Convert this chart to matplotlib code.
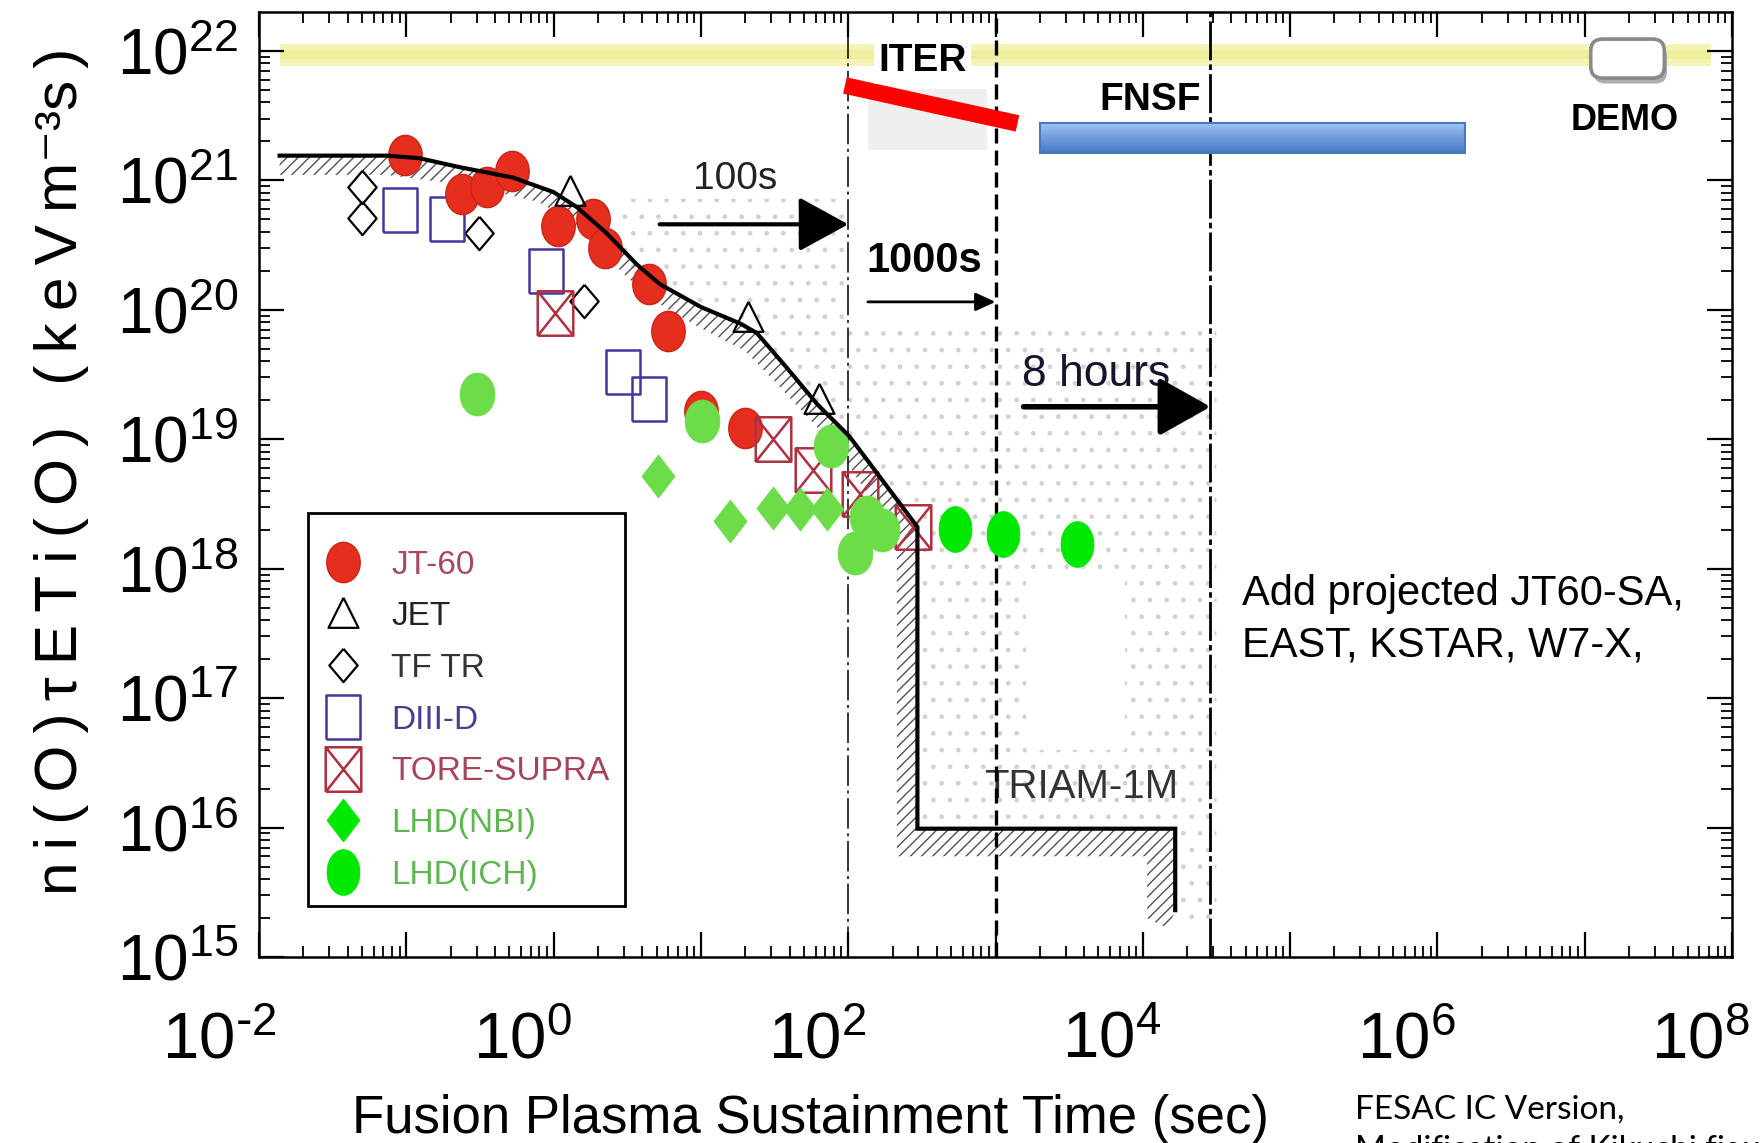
import numpy as np
import matplotlib
matplotlib.use("Agg")
import matplotlib.pyplot as plt
from matplotlib import font_manager
from matplotlib.path import Path
from matplotlib.patches import Polygon, Rectangle, FancyBboxPatch
from matplotlib.lines import Line2D
from matplotlib.ticker import LogLocator, FuncFormatter, NullFormatter
from matplotlib.transforms import ScaledTranslation
from matplotlib.colors import LinearSegmentedColormap
import matplotlib.patheffects as pe

installed = {f.name for f in font_manager.fontManager.ttflist}
NARROW = 'Liberation Sans Narrow' if 'Liberation Sans Narrow' in installed else 'Liberation Sans'
plt.rcParams['font.family'] = ['Liberation Sans', 'DejaVu Sans']
plt.rcParams['hatch.linewidth'] = 1.0

# sustainment time (s) and ni(0) tauE Ti(0) (keV m^-3 s)
jt60_t = [0.098, 0.24, 0.355, 0.525, 1.07, 1.86, 2.24, 4.47, 6.0, 10.0, 20.0]
jt60_v = [1.58e21, 7.9e20, 8.9e20, 1.17e21, 4.4e20, 5.0e20, 3.0e20, 1.58e20, 6.8e19, 1.66e19, 1.23e19]
jet_t = [1.29, 20.9, 63.0]
jet_v = [8.1e20, 8.7e19, 2.0e19]
tftr_t = [0.050, 0.050, 0.31, 1.62]
tftr_v = [8.9e20, 5.1e20, 3.9e20, 1.17e20]
d3d_t = [0.091, 0.19, 0.89, 2.95, 4.47]
d3d_v = [5.9e20, 5.0e20, 2.0e20, 3.3e19, 2.04e19]
ts_t = [1.02, 31.0, 57.5, 120.0, 275.0]
ts_v = [9.5e19, 1.0e19, 5.75e18, 3.8e18, 2.1e18]
nbi_t = [5.1, 15.8, 31.0, 46.8, 72.0]
nbi_v = [5.2e18, 2.34e18, 2.95e18, 2.9e18, 2.9e18]
ich_t = [0.30, 10.2, 76.0, 112.0, 135.0, 170.0]
ich_v = [2.24e19, 1.38e19, 8.9e18, 1.32e18, 2.5e18, 2.0e18]
ich_new_t = [530.0, 1120.0, 3550.0]
ich_new_v = [2.04e18, 1.86e18, 1.55e18]

# envelope of achieved values
env_t = [0.0138, 0.074, 0.123, 0.232, 0.53, 1.0, 1.44, 2.29, 3.67, 5.25, 10.0, 18.6,
         24.0, 38.0, 61.7, 102.0, 295.0, 295.0, 16600.0, 16600.0]
env_v = [1.55e21, 1.55e21, 1.48e21, 1.26e21, 1.05e21, 8.1e20, 6.2e20, 3.9e20, 2.24e20,
         1.58e20, 1.05e20, 7.8e19, 6.6e19, 3.6e19, 1.86e19, 1.05e19, 2.1e18, 9.8e15,
         9.8e15, 2.3e15]
# lower edge of the hatched band (traced back from the end)
band_t = [14800.0, 10700.0, 10700.0, 214.0, 214.0, 89.0, 52.5, 31.6, 20.0, 10.0, 5.6,
          3.16, 1.9, 1.26, 0.79, 0.45, 0.2, 0.074, 0.0138]
band_v = [1.66e15, 2.0e15, 6.0e15, 6.0e15, 1.66e18, 7.9e18, 1.5e19, 2.8e19, 4.8e19,
          7.2e19, 1.05e20, 1.78e20, 3.16e20, 5.0e20, 6.8e20, 7.9e20, 9.5e20, 1.1e21, 1.1e21]
# dotted background region
dots_t = [2.8, 100.0, 100.0, 31600.0, 31600.0, 17800.0, 17800.0, 295.0, 295.0, 102.0,
          38.0, 24.0, 10.0, 5.25, 2.8]
dots_v = [7.2e20, 7.2e20, 7.6e19, 7.6e19, 1.6e15, 1.6e15, 9.8e15, 9.8e15, 2.1e18, 1.05e19,
          3.6e19, 6.6e19, 1.05e20, 1.58e20, 2.24e20]
blank_t = [1620.0, 7600.0]
blank_v = [4.0e16, 9.3e17]

iter_t = [95.0, 1410.0]
iter_v = [5.4e21, 2.75e21]
iter_bg_t = [136.0, 870.0]
iter_bg_v = [1.7e21, 5.1e21]
fnsf_t = [2000.0, 1.55e6]
fnsf_v = [1.62e21, 2.75e21]
demo_t = [1.1e7, 3.47e7]
demo_v = [6.17e21, 1.23e22]
goal_t = [0.0138, 7.2e7]
goal_v = [7.7e21, 1.13e22]

legend_labels = ['JT-60', 'JET', 'TF TR', 'DIII-D', 'TORE-SUPRA', 'LHD(NBI)', 'LHD(ICH)']
legend_colors = ['#a84a5c', '#222222', '#333333', '#4a3c92', '#a8445a', '#5cb84e', '#5cb84e']


def ellipse(w):
    t = np.linspace(0, 2 * np.pi, 64)
    return Path(np.column_stack([w * np.cos(t), np.sin(t)]))


def box(w, cross=False):
    v = [(-w, -1), (w, -1), (w, 1), (-w, 1), (-w, -1)]
    c = [Path.MOVETO] + [Path.LINETO] * 4
    if cross:
        v += [(-w, -1), (w, 1), (-w, 1), (w, -1)]
        c += [Path.MOVETO, Path.LINETO, Path.MOVETO, Path.LINETO]
    return Path(v, c)


def diamond(w):
    return Path([(0, 1), (w, 0), (0, -1), (-w, 0), (0, 1)])


def triangle(w):
    return Path([(0, 1), (w, -0.8), (-w, -0.8), (0, 1)])


RED = '#e62e1e'
PURPLE = '#4634a0'
TSRED = '#b03040'
LGREEN = '#6cdc48'
BGREEN = '#00e800'

styles = {
    'jt60': dict(marker=ellipse(0.83), ms=29, mfc=RED, mec='#cc2418', mew=1),
    'jet': dict(marker=triangle(0.9), ms=24, mfc='none', mec='black', mew=1.6),
    'tftr': dict(marker=diamond(0.85), ms=24, mfc='none', mec='black', mew=1.6),
    'd3d': dict(marker=box(0.77), ms=32, mfc='none', mec=PURPLE, mew=1.8),
    'ts': dict(marker=box(0.8, True), ms=32, mfc='none', mec=TSRED, mew=1.8),
    'nbi': dict(marker=diamond(0.77), ms=31, mfc=LGREEN, mec=LGREEN, mew=0.5),
    'ich': dict(marker=ellipse(0.81), ms=31, mfc=LGREEN, mec=LGREEN, mew=0.5),
    'ich_new': dict(marker=ellipse(0.72), ms=33, mfc=BGREEN, mec=BGREEN, mew=0.5),
}

fig = plt.figure(figsize=(17.61, 11.43), dpi=100)
ax = fig.add_axes([259 / 1761, 186 / 1143, 1473 / 1761, 945 / 1143])
ax.set_xscale('log')
ax.set_yscale('log')

# background decorations
ax.fill_between(goal_t, goal_v[0], goal_v[1], color='#f4f4b6', lw=0, zorder=1)
ax.fill_between(goal_t, goal_v[0] * 1.12, goal_v[1] / 1.12, color='#eeee9c', lw=0, zorder=1)
ax.add_patch(Polygon(list(zip(dots_t, dots_v)), closed=True, facecolor='none',
                     edgecolor='#d2d2d2', lw=0, hatch='.', zorder=1))
ax.add_patch(Rectangle((blank_t[0], blank_v[0]), blank_t[1] - blank_t[0], blank_v[1] - blank_v[0],
                       facecolor='white', lw=0, zorder=1.5))
band = list(zip(env_t, env_v)) + list(zip(band_t, band_v))
ax.add_patch(Polygon(band, closed=True, facecolor='none', edgecolor='#505050', lw=0,
                     hatch='///', zorder=2))

ax.axvline(100, color='black', lw=1.1, ls=(0, (20, 3, 2, 3)), zorder=2.5)
ax.axvline(1000, color='black', lw=2.4, ls=(0, (4.5, 2.1)), zorder=2.5)
ax.axvline(28800, color='black', lw=2.0, ls=(0, (14, 1.5, 2, 1.5)), zorder=2.5)

# data
ax.plot(tftr_t, tftr_v, ls='none', zorder=3, **styles['tftr'])
ax.plot(d3d_t, d3d_v, ls='none', zorder=3, **styles['d3d'])
ax.plot(jt60_t, jt60_v, ls='none', zorder=3, **styles['jt60'])
ax.plot(jet_t, jet_v, ls='none', zorder=3, **styles['jet'])
ax.plot(ts_t, ts_v, ls='none', zorder=3, **styles['ts'])
ax.plot(nbi_t, nbi_v, ls='none', zorder=3, **styles['nbi'])
ax.plot(ich_t, ich_v, ls='none', zorder=3, **styles['ich'])
ax.plot(ich_new_t, ich_new_v, ls='none', zorder=3.5, **styles['ich_new'])
ax.plot(env_t, env_v, color='black', lw=3, solid_joinstyle='miter', zorder=4)

# ITER / FNSF / DEMO
ax.add_patch(Rectangle((iter_bg_t[0], iter_bg_v[0]), iter_bg_t[1] - iter_bg_t[0],
                       iter_bg_v[1] - iter_bg_v[0], facecolor='#efefef', lw=0, zorder=2.6))
ax.plot(iter_t, iter_v, color='#ff0000', lw=12, solid_capstyle='butt', zorder=5)
cmap = LinearSegmentedColormap.from_list('fnsf', ['#a2c6f6', '#4a7cc6'])
ax.imshow(np.linspace(0, 1, 64).reshape(-1, 1), cmap=cmap, aspect='auto', origin='upper',
          extent=(fnsf_t[0], fnsf_t[1], fnsf_v[0], fnsf_v[1]), interpolation='bilinear', zorder=5)
ax.add_patch(Rectangle((fnsf_t[0], fnsf_v[0]), fnsf_t[1] - fnsf_t[0], fnsf_v[1] - fnsf_v[0],
                       fill=False, edgecolor='#4a78c0', lw=1.5, zorder=5.1))

ax.set_xlim(1e-2, 1e8)
ax.set_ylim(1e15, 10 ** 22.3)

to_axes = ax.transData + ax.transAxes.inverted()
(dx0, dy0), (dx1, dy1) = to_axes.transform([(demo_t[0], demo_v[0]), (demo_t[1], demo_v[1])])
ax.add_patch(FancyBboxPatch((dx0, dy0), dx1 - dx0, dy1 - dy0, transform=ax.transAxes,
                            boxstyle='round,pad=0,rounding_size=0.008', mutation_aspect=1473 / 945,
                            facecolor='white', edgecolor='#8a8a8a', lw=2.5, zorder=5,
                            path_effects=[pe.withSimplePatchShadow(offset=(2, -4), shadow_rgbFace='#999999', alpha=0.8),
                                          pe.Normal()]))

ax.text(320, 8.3e21, 'ITER', fontsize=28, fontweight='bold', ha='center', va='center', zorder=6,
        bbox=dict(facecolor='white', edgecolor='none', pad=3))
ax.text(11200, 4.2e21, 'FNSF', fontsize=28, fontweight='bold', ha='center', va='center', zorder=6)
ax.text(1.86e7, 2.9e21, 'DEMO', fontsize=26, fontweight='bold', ha='center', va='center', zorder=6)

# arrows and labels
ax.annotate('', xy=(100, 4.57e20), xytext=(5.25, 4.57e20), zorder=6,
            arrowprops=dict(arrowstyle='-|>,head_length=3.1,head_width=1.7', mutation_scale=10,
                            lw=3, color='black', shrinkA=0, shrinkB=0))
ax.text(17, 1.02e21, '100s', fontsize=28, family=NARROW, color='#222222', ha='center', va='center')
ax.annotate('', xy=(1000, 1.15e20), xytext=(136, 1.15e20), zorder=6,
            arrowprops=dict(arrowstyle='-|>,head_length=1.2,head_width=0.55', mutation_scale=10,
                            lw=2, color='black', shrinkA=0, shrinkB=0))
ax.text(330, 2.4e20, '1000s', fontsize=30, fontweight='bold', ha='center', va='center', zorder=6)
ax.annotate('', xy=(28800, 1.78e19), xytext=(1550, 1.78e19), zorder=6,
            arrowprops=dict(arrowstyle='-|>,head_length=3.2,head_width=1.8', mutation_scale=10,
                            lw=4, color='black', shrinkA=0, shrinkB=0))
ax.text(4800, 3.16e19, '8 hours', fontsize=32, family=NARROW, color='#15152e', ha='center', va='center')
ax.text(3800, 2.04e16, 'TRIAM-1M', fontsize=29, family=NARROW, color='#333333', ha='center',
        va='center', zorder=2)
ax.text(47200, 5.25e17, 'Add projected JT60-SA,', fontsize=30, ha='left', va='baseline')
ax.text(47200, 2.09e17, 'EAST, KSTAR, W7-X,', fontsize=30, ha='left', va='baseline')

# axes styling
ax.xaxis.set_major_locator(LogLocator(base=10, numticks=30))
ax.xaxis.set_minor_locator(LogLocator(base=10, subs=np.arange(2, 10), numticks=30))
ax.yaxis.set_major_locator(LogLocator(base=10, numticks=30))
ax.yaxis.set_minor_locator(LogLocator(base=10, subs=np.arange(2, 10), numticks=30))
ax.xaxis.set_minor_formatter(NullFormatter())
ax.yaxis.set_minor_formatter(NullFormatter())


def xfmt(v, pos):
    e = int(round(np.log10(v)))
    if e % 2:
        return ''
    if e < 0:
        return r'$\mathregular{10^{\text{-}%d}}$' % (-e)
    return r'$\mathregular{10^{%d}}$' % e


ax.xaxis.set_major_formatter(FuncFormatter(xfmt))
ax.yaxis.set_major_formatter(FuncFormatter(lambda v, p: r'$\mathregular{10^{%d}}$' % round(np.log10(v))))
ax.tick_params(which='both', direction='in', top=True, right=True, labelfontfamily=NARROW)
ax.tick_params(axis='x', labelsize=47, pad=39)
ax.tick_params(axis='y', labelsize=46, pad=15)
ax.tick_params(which='major', length=18, width=1.6)
ax.tick_params(which='minor', length=8, width=1.3)
for s in ax.spines.values():
    s.set_linewidth(1.8)

off = ScaledTranslation(0.18, 0, fig.dpi_scale_trans)
for lab in ax.get_xticklabels():
    lab.set_horizontalalignment('right')
    lab.set_transform(lab.get_transform() + off)

# legend
handle_keys = ['jt60', 'jet', 'tftr', 'd3d', 'ts', 'nbi', 'ich_new']
handles = []
for k in handle_keys:
    st = dict(styles[k])
    if k == 'nbi':
        st.update(mfc=BGREEN, mec=BGREEN)
    handles.append(Line2D([], [], ls='none', **st))
leg = ax.legend(handles, legend_labels, loc='upper left', bbox_to_anchor=(0.0333, 0.470),
                prop={'family': NARROW, 'size': 24}, labelcolor=legend_colors, frameon=True,
                fancybox=False, edgecolor='black', framealpha=1, borderpad=0.45, labelspacing=0.62,
                handlelength=1.2, handletextpad=0.85, borderaxespad=0, title=' ', title_fontsize=1)
leg.get_frame().set_linewidth(2)
leg.set_zorder(7)

ylab = '\u2009'.join('ni(O)\u03c4ETi(O)') + '\u2009 \u2009' + '\u2009'.join('(keVm') + '\u207b\u00b3' + '\u2009'.join('s)')
fig.text(62 / 1761, 1 - 471 / 1143, ylab, rotation=90, fontsize=43.5, ha='center', va='center',
         family=['Liberation Sans', 'DejaVu Sans'])
fig.text(0.46, 1 - 1133 / 1143, 'Fusion Plasma Sustainment Time (sec)', fontsize=38,
         ha='center', va='baseline')
fig.text(1355 / 1761, 1 - 1119 / 1143, 'FESAC IC Version,', fontsize=24, family=['Lato', 'DejaVu Sans'],
         ha='left', va='baseline')
fig.text(1355 / 1761, 1 - 1159 / 1143, 'Modification of Kikuchi figure', fontsize=24,
         family=['Lato', 'DejaVu Sans'], ha='left', va='baseline')

fig.savefig('out.png', dpi=100)
